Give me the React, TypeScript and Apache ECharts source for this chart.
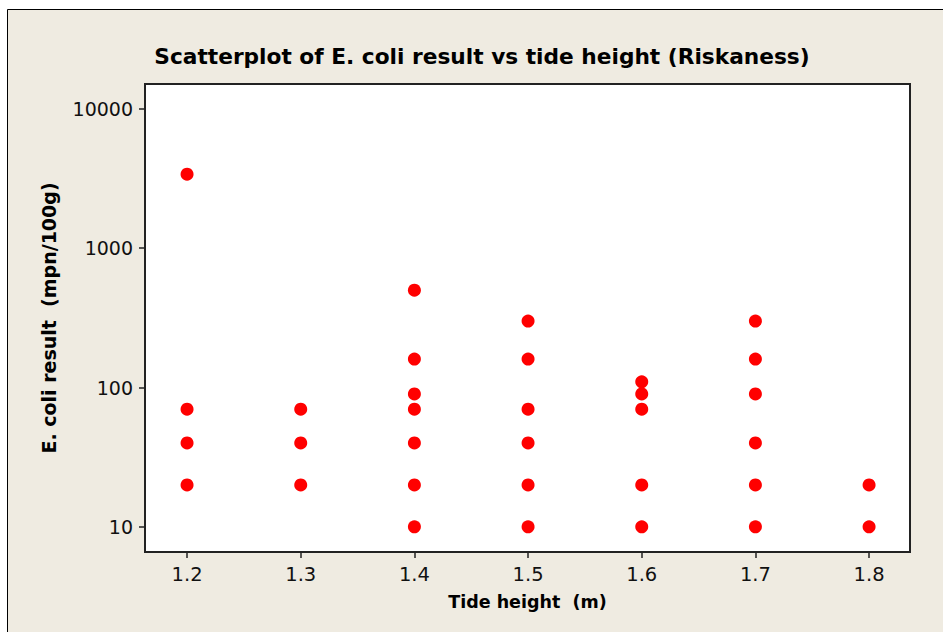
import React, { useEffect, useRef } from "react";
import * as echarts from "echarts";

const tideHeights = [1.2, 1.3, 1.4, 1.5, 1.6, 1.7, 1.8];
const ecoliByTide: number[][] = [
  [3400, 70, 40, 20],
  [70, 40, 20],
  [500, 160, 90, 70, 40, 20, 10],
  [300, 160, 70, 40, 20, 10],
  [110, 90, 70, 20, 10],
  [300, 160, 90, 40, 20, 10],
  [20, 10],
];
const xTicks = [1.2, 1.3, 1.4, 1.5, 1.6, 1.7, 1.8];
const yTicks = [10, 100, 1000, 10000];

const FONT = "DejaVu Sans";

export default function App() {
  const ref = useRef<HTMLDivElement>(null);
  useEffect(() => {
    if (!ref.current) return;
    const chart = echarts.init(ref.current, undefined, { renderer: "svg" });
    const data: number[][] = [];
    tideHeights.forEach((t, i) => ecoliByTide[i].forEach((v) => data.push([t, v])));
    chart.setOption({
      animation: false,
      backgroundColor: "#ffffff",
      graphic: [
        {
          type: "rect",
          shape: { x: 7.5, y: 9.5, width: 1000, height: 1000 },
          style: { fill: "#EFEBE1", stroke: "#000", lineWidth: 1 },
          z: -10,
          silent: true,
        },
      ],
      title: {
        text: "Scatterplot of E. coli result vs tide height (Riskaness)",
        left: 477,
        textAlign: "center",
        top: 40,
        textStyle: { fontFamily: FONT, fontWeight: "bold", fontSize: 21.7, color: "#000" },
      },
      grid: {
        left: 145,
        top: 84,
        right: 33,
        bottom: 80,
        show: true,
        backgroundColor: "#fff",
        borderColor: "#222",
        borderWidth: 2,
        z: 1,
      },
      xAxis: {
        type: "value",
        min: 1.163,
        max: 1.836,
        name: "Tide height  (m)",
        nameLocation: "middle",
        nameGap: 41,
        nameTextStyle: { fontFamily: FONT, fontWeight: "bold", fontSize: 17.5, color: "#000" },
        axisLine: { show: true, lineStyle: { color: "#222", width: 2 } },
        axisTick: { show: true, length: 6, lineStyle: { color: "#222", width: 1.5 }, customValues: xTicks },
        axisLabel: {
          customValues: xTicks,
          margin: 12,
          fontFamily: FONT,
          fontSize: 19.5,
          color: "#111",
          formatter: (v: number) => v.toFixed(1),
        },
        splitLine: { show: false },
      },
      yAxis: {
        type: "log",
        logBase: 10,
        min: 6.6,
        max: 15100,
        name: "E. coli result  (mpn/100g)",
        nameLocation: "middle",
        nameGap: 87,
        nameTextStyle: { fontFamily: FONT, fontWeight: "bold", fontSize: 19, color: "#000" },
        axisLine: { show: true, lineStyle: { color: "#222", width: 2 } },
        axisTick: { show: true, length: 6, lineStyle: { color: "#222", width: 1.5 }, customValues: yTicks },
        axisLabel: {
          customValues: yTicks,
          margin: 12,
          fontFamily: FONT,
          fontSize: 19,
          color: "#111",
          formatter: (v: number) => String(Math.round(v)),
        },
        splitLine: { show: false },
      },
      series: [
        {
          type: "scatter",
          data,
          symbol: "circle",
          symbolSize: 13,
          itemStyle: { color: "#FF0000", opacity: 1 },
          z: 5,
        },
      ],
    });
    return () => chart.dispose();
  }, []);
  return (
    <div
      ref={ref}
      style={{ position: "fixed", left: 0, top: 0, width: 943, height: 632 }}
    />
  );
}
